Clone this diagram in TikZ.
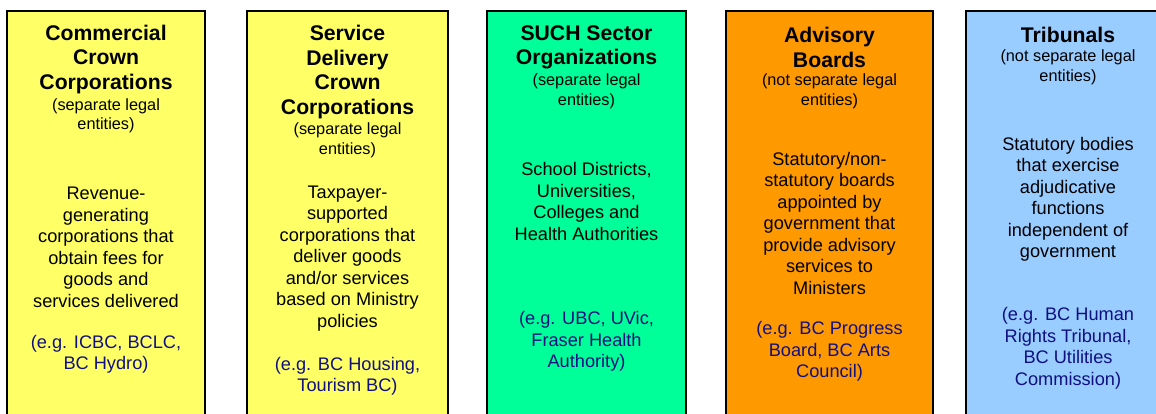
\documentclass[tikz,border=0pt]{standalone}
\usepackage{fontspec}
\setmainfont{Liberation Sans}
\usetikzlibrary{positioning}
\definecolor{crownyellow}{HTML}{FFFF66}
\definecolor{suchgreen}{HTML}{00FF99}
\definecolor{boardorange}{HTML}{FF9900}
\definecolor{tribblue}{HTML}{99CCFF}
\definecolor{egblue}{HTML}{101080}

\begin{document}
\begin{tikzpicture}[x=1pt,y=-1pt]
	\tikzstyle{panel} = [draw, line width=1.6pt, shape=rectangle]
	\tikzstyle{head} = [align=center, inner sep=0pt, font=\fontsize{21.2}{24.5}\selectfont\bfseries]
	\tikzstyle{note} = [align=center, inner sep=0pt, font=\fontsize{16.3}{19.5}\selectfont]
	\tikzstyle{body} = [align=center, inner sep=0pt, font=\fontsize{18.2}{21.5}\selectfont]
	\tikzstyle{eg} = [body, text=egblue]
	\useasboundingbox (0,0) rectangle (1156,413);
	\clip (0,0) rectangle (1156,413);
	%Creating Panels
	\draw[panel, fill=crownyellow] (7,11) rectangle (205,430);
	\draw[panel, fill=crownyellow] (247,11) rectangle (448,430);
	\draw[panel, fill=suchgreen] (487,11) rectangle (686,430);
	\draw[panel, fill=boardorange] (726,11) rectangle (933,430);
	\draw[panel, fill=tribblue] (966,11) rectangle (1175,430);
	%Commercial Crown Corporations
	\node [head] at (106,59.5) (head1) {Commercial\\Crown\\Corporations};
	\node [note] at (106,116) (note1) {(separate legal\\entities)};
	\node [body] at (106,247.5) (body1) {Revenue-\\generating\\corporations that\\obtain fees for\\goods and\\services delivered};
	\node [eg] at (106,354.5) (eg1) {(e.g. ICBC, BCLC,\\BC Hydro)};
	%Service Delivery Crown Corporations
	\node [head] at (347.5,72) (head2) {Service\\Delivery\\Crown\\Corporations};
	\node [note] at (347.5,140.5) (note2) {(separate legal\\entities)};
	\node [body] at (347.5,258.5) (body2) {Taxpayer-\\supported\\corporations that\\deliver goods\\and/or services\\based on Ministry\\policies};
	\node [eg] at (347.5,376.5) (eg2) {(e.g. BC Housing,\\Tourism BC)};
	%SUCH Sector Organizations
	\node [head] at (586.5,47.5) (head3) {SUCH Sector\\Organizations};
	\node [note] at (586.5,91.5) (note3) {(separate legal\\entities)};
	\node [body] at (586.5,201.5) (body3) {School Districts,\\Universities,\\Colleges and\\Health Authorities};
	\node [eg] at (586.5,341.5) (eg3) {(e.g. UBC, UVic,\\Fraser Health\\Authority)};
	%Advisory Boards
	\node [head] at (829.5,47.5) (head4) {Advisory\\Boards};
	\node [note] at (829.5,91.5) (note4) {(not separate legal\\entities)};
	\node [body] at (829.5,223) (body4) {Statutory/non-\\statutory boards\\appointed by\\government that\\provide advisory\\services to\\Ministers};
	\node [eg] at (829.5,351.5) (eg4) {(e.g. BC Progress\\Board, BC Arts\\Council)};
	%Tribunals
	\node [head] at (1068,35) (head5) {Tribunals};
	\node [note] at (1068,67.5) (note5) {(not separate legal\\entities)};
	\node [body] at (1068,199.5) (body5) {Statutory bodies\\that exercise\\adjudicative\\functions\\independent of\\government};
	\node [eg] at (1068,348.5) (eg5) {(e.g. BC Human\\Rights Tribunal,\\BC Utilities\\Commission)};
\end{tikzpicture}
\end{document}
